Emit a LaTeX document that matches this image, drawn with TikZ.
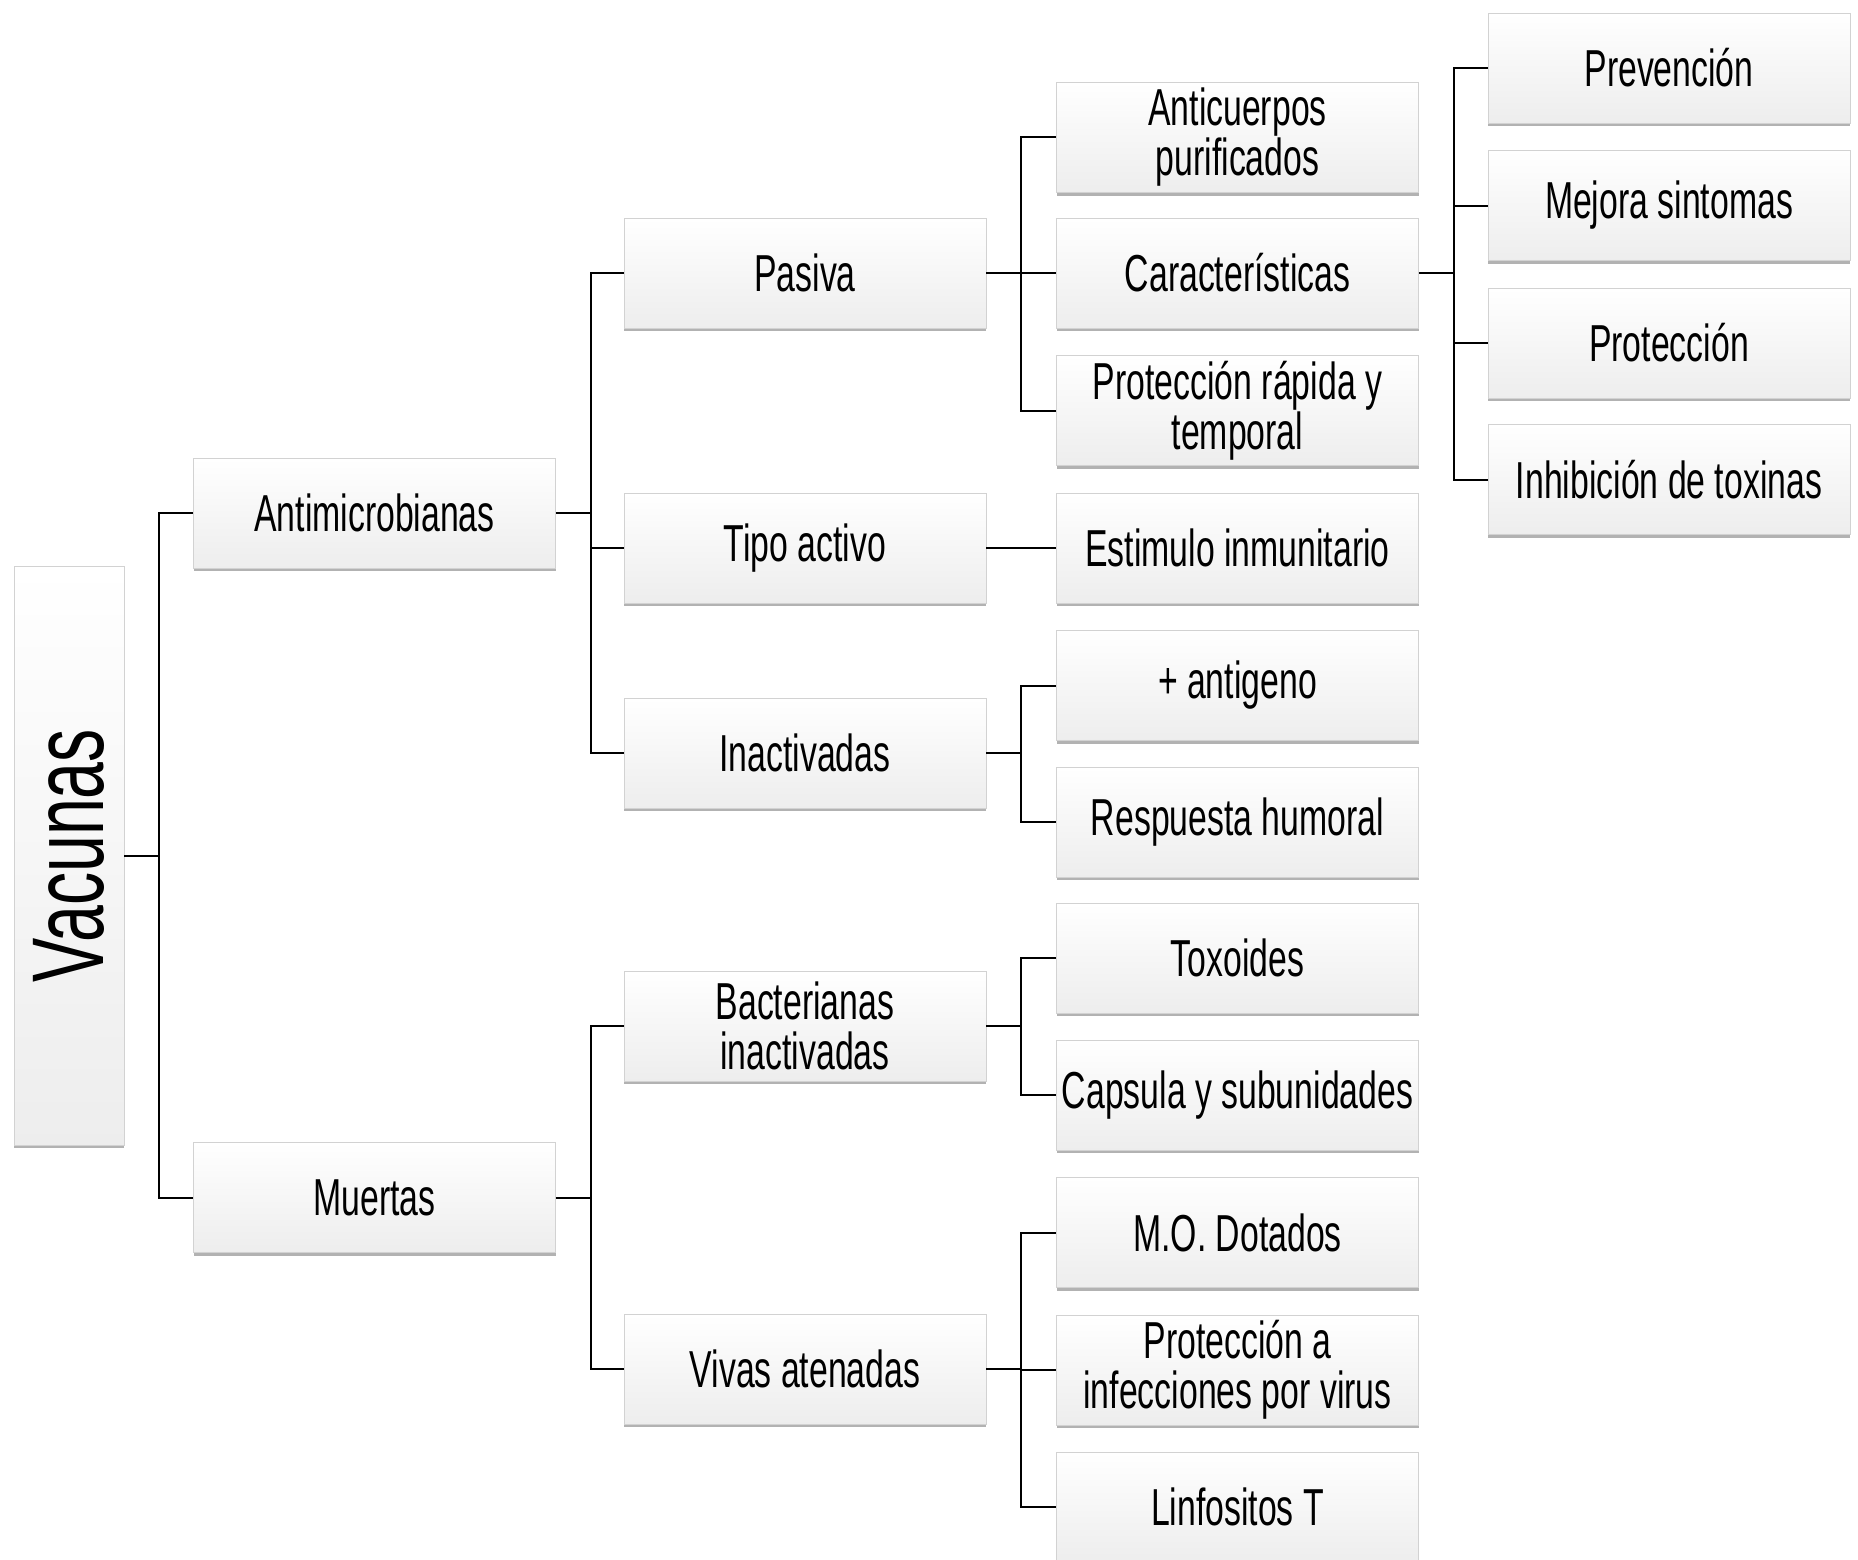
\documentclass[tikz,border=0pt]{standalone}
\usepackage{fontspec}
\setmainfont[FakeStretch=0.65]{Liberation Sans}
\usetikzlibrary{shadows}
\begin{document}
\begin{tikzpicture}[x=1pt,y=-1pt,
  box/.style={shade, top color=white, bottom color=gray!14, draw=gray!35, line width=0.8pt,
    minimum width=362pt, minimum height=110pt, inner sep=0pt, align=center,
    font=\fontsize{52}{50}\selectfont,
    drop shadow={shadow xshift=0pt, shadow yshift=-3pt, fill=gray!75, opacity=0.8}},
  conn/.style={line width=2pt, draw=black}]
\useasboundingbox (0,0) rectangle (1858,1560);

% root
\node[box, minimum width=110pt, minimum height=579pt] (vac) at (69,855.5)
  {\rotatebox{90}{\fontsize{102}{102}\selectfont Vacunas}};

% level 1
\node[box] (anti) at (374.5,513) {Antimicrobianas};
\node[box] (muer) at (374.5,1197.5) {Muertas};

% level 2
\node[box] (pas) at (805,273) {Pasiva};
\node[box] (tip) at (805,548) {Tipo activo};
\node[box] (ina) at (805,753) {Inactivadas};
\node[box] (bac) at (805,1026) {Bacterianas\\inactivadas};
\node[box] (viv) at (805,1369) {Vivas atenadas};

% level 3
\node[box] (ant) at (1237.5,137.5) {Anticuerpos\\purificados};
\node[box] (car) at (1237.5,273) {Características};
\node[box] (prt) at (1237.5,410.5) {Protección rápida y\\temporal};
\node[box] (est) at (1237.5,548) {Estimulo inmunitario};
\node[box] (agn) at (1237.5,685.5) {+ antigeno};
\node[box] (res) at (1237.5,822) {Respuesta humoral};
\node[box] (tox) at (1237.5,958) {Toxoides};
\node[box] (cap) at (1237.5,1095) {Capsula y subunidades};
\node[box] (mod) at (1237.5,1232.5) {M.O. Dotados};
\node[box] (pai) at (1237.5,1370) {Protección a\\infecciones por virus};
\node[box] (lin) at (1237.5,1507) {Linfositos T};

% level 4
\node[box] (pre) at (1669,68) {Prevención};
\node[box] (mej) at (1669,205.5) {Mejora sintomas};
\node[box] (pro) at (1669,343) {Protección};
\node[box] (inh) at (1669,479.5) {Inhibición de toxinas};

% connectors
\draw[conn] (vac.east) -- ++(35,0) coordinate (t0);
\draw[conn] (t0) |- (anti.west);
\draw[conn] (t0) |- (muer.west);

\draw[conn] (anti.east) -- ++(35,0) coordinate (t1);
\foreach \n in {pas,tip,ina} \draw[conn] (t1) |- (\n.west);

\draw[conn] (muer.east) -- ++(35,0) coordinate (t2);
\foreach \n in {bac,viv} \draw[conn] (t2) |- (\n.west);

\draw[conn] (pas.east) -- ++(35,0) coordinate (t3);
\foreach \n in {ant,car,prt} \draw[conn] (t3) |- (\n.west);

\draw[conn] (tip.east) -- (est.west);

\draw[conn] (ina.east) -- ++(35,0) coordinate (t4);
\foreach \n in {agn,res} \draw[conn] (t4) |- (\n.west);

\draw[conn] (bac.east) -- ++(35,0) coordinate (t5);
\foreach \n in {tox,cap} \draw[conn] (t5) |- (\n.west);

\draw[conn] (viv.east) -- ++(35,0) coordinate (t6);
\foreach \n in {mod,pai,lin} \draw[conn] (t6) |- (\n.west);

\draw[conn] (car.east) -- ++(35,0) coordinate (t7);
\foreach \n in {pre,mej,pro,inh} \draw[conn] (t7) |- (\n.west);
\end{tikzpicture}
\end{document}
